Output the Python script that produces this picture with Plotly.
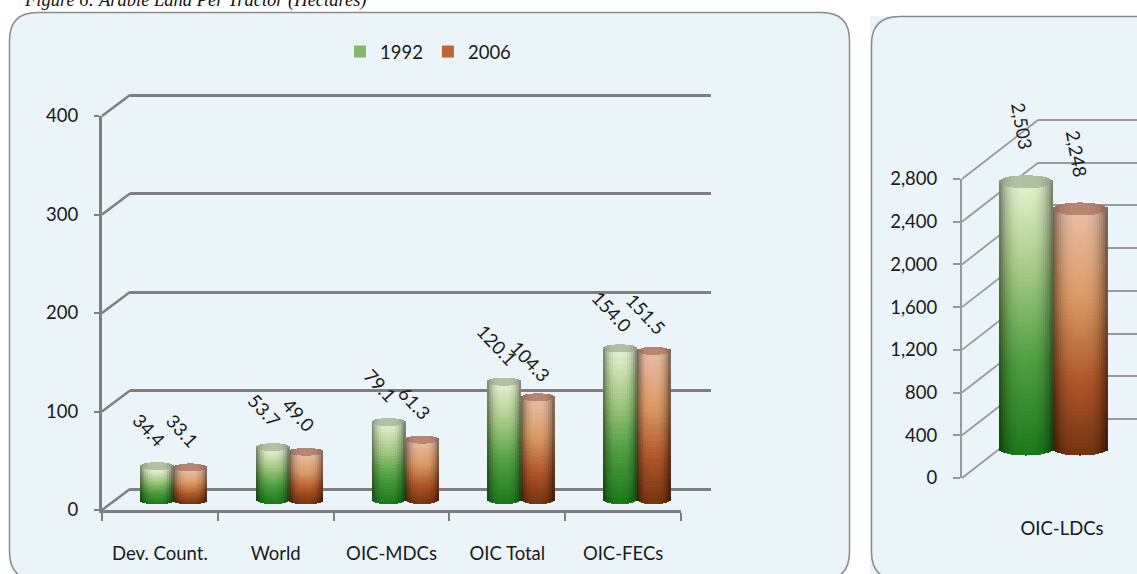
import math
import plotly.graph_objects as go

# ---------- data ----------
CATEGORIES = ["Dev. Count.", "World", "OIC-MDCs", "OIC Total", "OIC-FECs"]
VALUES_1992 = [34.4, 53.7, 79.1, 120.1, 154.0]
VALUES_2006 = [33.1, 49.0, 61.3, 104.3, 151.5]
LDC_CATEGORY = ["OIC-LDCs"]
LDC_1992 = [2503]
LDC_2006 = [2248]
SERIES_NAMES = ["1992", "2006"]
TITLE = "Figure 6: Arable Land Per Tractor (Hectares)"

# ---------- style ----------
W, H = 1137, 574
FONT = "Lato"
TXT = "#1a1a1a"
GRAY = "#7f7f7f"
PANEL = "#EBF4F8"
GREEN = [(0, "#1C7A1C"), (.35, "#4F9F40"), (.7, "#A8CC88"), (1, "#E2F0CC")]
ORANGE = [(0, "#753412"), (.3, "#AE5628"), (.65, "#DC9A64"), (1, "#E8BCA4")]
CAPS = ["#B4C2A4", "#B98672"]
FLAT = ["#86B86C", "#B9663A"]
FS = 18.5


def fx(p):
    return p / W


def fy(p):
    return 1 - p / H


def rgb(h):
    return [int(h[i:i + 2], 16) for i in (1, 3, 5)]


def ramp(stops, t):
    for (a, ca), (b, cb) in zip(stops, stops[1:]):
        if t <= b:
            f = (t - a) / (b - a)
            return [x + (y - x) * f for x, y in zip(rgb(ca), rgb(cb))]
    return rgb(stops[-1][1])


def shade(c, u):
    k = 0.5 + 0.5 * (1 - abs(u) ** 3.0)
    return "rgb(%d,%d,%d)" % tuple(int(v * k) for v in c)


def cylinder(cats, values, left, width, ry, stops, cap, xa, ya, cols, segs):
    xs, ys, bases, wid, offs, colors = [], [], [], [], [], []
    for cat, v in zip(cats, values):
        for j in range(cols):
            u = (j + .5) / cols * 2 - 1
            sag = ry * math.sqrt(1 - u * u)
            lo, hi = -sag, v - sag
            for k in range(segs):
                xs.append(cat)
                bases.append(lo + (hi - lo) * k / segs)
                ys.append((hi - lo) / segs)
                wid.append(width / cols)
                offs.append(left + width * j / cols)
                colors.append(shade(ramp(stops, (k + .5) / segs), u))
            xs.append(cat)
            bases.append(hi)
            ys.append(2 * sag)
            wid.append(width / cols)
            offs.append(left + width * j / cols)
            colors.append(shade(rgb(cap), u * .8))
    return go.Bar(x=xs, y=ys, base=bases, width=wid, offset=offs,
                  marker=dict(color=colors, line=dict(width=0)),
                  xaxis=xa, yaxis=ya, showlegend=False, hoverinfo="skip",
                  cliponaxis=False)


fig = go.Figure()
ann = []
shapes = []

# ---------- panels ----------


def rounded(x0, y0, x1, y1, r):
    X0, X1, R = fx(x0), fx(x1), r / W
    Y0, Y1, Ry = fy(y0), fy(y1), r / H
    return (f"M {X0+R} {Y0} L {X1-R} {Y0} Q {X1} {Y0} {X1} {Y0-Ry} L {X1} {Y1+Ry} "
            f"Q {X1} {Y1} {X1-R} {Y1} L {X0+R} {Y1} Q {X0} {Y1} {X0} {Y1+Ry} "
            f"L {X0} {Y0-Ry} Q {X0} {Y0} {X0+R} {Y0} Z")


shapes.append(dict(type="path", path=rounded(9.5, 12.5, 849.5, 580, 28), xref="paper", yref="paper",
                   fillcolor=PANEL, line=dict(color="#8a8a8a", width=1.5), layer="below"))
shapes.append(dict(type="rect", x0=fx(870), x1=1, y0=fy(16), y1=0, xref="paper", yref="paper",
                   fillcolor=PANEL, line=dict(width=0), layer="below"))
shapes.append(dict(type="path", path=rounded(871.5, 16.5, 1180, 580, 28), xref="paper", yref="paper",
                   fillcolor=PANEL, line=dict(color="#8a8a8a", width=1.5), layer="below"))

# ---------- left chart ----------
L_TICKS = [0, 100, 200, 300, 400]
L_MAX = 400
L_PAD = 40
R_TICKS = [0, 400, 800, 1200, 1600, 2000, 2400, 2800]
R_MAX = 2800
R_PAD = 280

lpx = 394 / L_MAX
lw = 33.5 / 115.8
lry = 4 / lpx
# invisible anchors so the back wall and front axes exist
fig.add_trace(go.Scatter(x=CATEGORIES, y=[0] * 5, mode="none", xaxis="x", yaxis="y", showlegend=False, hoverinfo="skip"))
fig.add_trace(go.Scatter(x=CATEGORIES, y=[0] * 5, mode="none", xaxis="x2", yaxis="y2", showlegend=False, hoverinfo="skip"))

for i, (vals, name) in enumerate(zip([VALUES_1992, VALUES_2006], SERIES_NAMES)):
    fig.add_trace(go.Bar(x=CATEGORIES, y=vals, name=name, width=lw, offset=-lw + i * lw,
                         marker=dict(color=FLAT[i], line=dict(width=0)), xaxis="x3", yaxis="y3", cliponaxis=False))
    fig.add_trace(cylinder(CATEGORIES, vals, -lw + i * lw, lw, lry, [GREEN, ORANGE][i], CAPS[i], "x3", "y3", 17, 26))
    for c, v in zip(CATEGORIES, vals):
        ann.append(dict(x=c, y=v, xref="x3", yref="y3", text=f"{v:.1f}", textangle=47, showarrow=False,
                        xshift=(-lw + i * lw + lw / 2) * 115.8 - 8, yshift=36,
                        font=dict(family=FONT, size=FS, color=TXT)))

for t in L_TICKS:
    y = 510 - t * lpx
    shapes.append(dict(type="line", x0=fx(102), x1=fx(130), y0=fy(y), y1=fy(y - 21), xref="paper", yref="paper",
                       line=dict(color=GRAY, width=2.5), layer="below"))

# ---------- right chart ----------
rpx = 299 / R_MAX
rw = 54.5 / 200
rry = 6.5 / rpx
fig.add_trace(go.Scatter(x=LDC_CATEGORY, y=[0], mode="none", xaxis="x4", yaxis="y4", showlegend=False, hoverinfo="skip"))
fig.add_trace(go.Scatter(x=LDC_CATEGORY, y=[0], mode="none", xaxis="x5", yaxis="y5", showlegend=False, hoverinfo="skip"))
for i, vals in enumerate([LDC_1992, LDC_2006]):
    fig.add_trace(go.Bar(x=LDC_CATEGORY, y=vals, name=SERIES_NAMES[i], width=rw, offset=-rw + i * rw,
                         marker=dict(color=FLAT[i], line=dict(width=0)), xaxis="x6", yaxis="y6",
                         showlegend=False, cliponaxis=False))
    fig.add_trace(cylinder(LDC_CATEGORY, vals, -rw + i * rw, rw, rry, [GREEN, ORANGE][i], CAPS[i], "x6", "y6", 27, 60))
    for c, v in zip(LDC_CATEGORY, vals):
        ann.append(dict(x=c, y=v, xref="x6", yref="y6", text=f"{v:,}", textangle=80, showarrow=False,
                        xshift=(-rw + i * rw + rw / 2) * 200 - 4, yshift=55,
                        font=dict(family=FONT, size=FS, color=TXT)))
for t in R_TICKS:
    y = 478 - t * rpx
    shapes.append(dict(type="line", x0=fx(962), x1=fx(1038), y0=fy(y), y1=fy(y - 59), xref="paper", yref="paper",
                       line=dict(color="#999999", width=1.8), layer="below"))

# ---------- title ----------
ann.append(dict(x=fx(22), y=fy(0.5), xref="paper", yref="paper", xanchor="left", yanchor="middle",
                text=f"<i>{TITLE}</i>", showarrow=False,
                font=dict(family="Liberation Serif", size=18.5, color="#111111")))

hidden = dict(showgrid=False, zeroline=False, showline=False, showticklabels=False, ticks="")
tick_font = dict(family=FONT, size=FS, color=TXT)

fig.update_layout(
    template="none",
    width=W, height=H, margin=dict(l=0, r=0, t=0, b=0), autosize=False,
    paper_bgcolor="white", plot_bgcolor="rgba(0,0,0,0)", barmode="overlay", bargap=0, bargroupgap=0,
    shapes=shapes, annotations=ann,
    legend=dict(orientation="h", x=fx(340), y=fy(52), xanchor="left", yanchor="middle",
                bgcolor="rgba(0,0,0,0)", font=dict(family=FONT, size=FS, color=TXT),
                itemwidth=30, traceorder="normal"),
    # left back wall
    xaxis=dict(domain=[fx(130), fx(711)], type="category", categoryorder="array", categoryarray=CATEGORIES,
               range=[-.5, 4.5], anchor="y", **hidden),
    yaxis=dict(domain=[fy(489 + L_PAD * lpx), fy(95 - L_PAD * lpx)], range=[-L_PAD, L_MAX + L_PAD], anchor="x", tickvals=L_TICKS, showgrid=True,
               gridcolor=GRAY, gridwidth=3, zeroline=False, showline=False, showticklabels=False, ticks=""),
    # left front axes
    xaxis2=dict(domain=[fx(102), fx(681)], type="category", categoryorder="array", categoryarray=CATEGORIES,
                range=[-.5, 4.5], anchor="y2",
                showline=True, linecolor=GRAY, linewidth=3, ticks="outside", ticklen=8, tickwidth=1.5, tickcolor=GRAY,
                tickson="boundaries", tickfont=tick_font, ticklabelstandoff=25, showgrid=False, zeroline=False),
    yaxis2=dict(domain=[fy(510), fy(116)], range=[0, L_MAX], anchor="x2", tickvals=L_TICKS, showline=True,
                linecolor=GRAY, linewidth=3, ticks="outside", ticklen=5, tickwidth=1.5, tickcolor=GRAY,
                tickfont=tick_font, ticklabelstandoff=12, showgrid=False, zeroline=False),
    # left bars
    xaxis3=dict(domain=[fx(116), fx(695)], type="category", categoryorder="array", categoryarray=CATEGORIES,
                range=[-.5, 4.5], anchor="y3", **hidden),
    yaxis3=dict(domain=[fy(499.5 + L_PAD * lpx), fy(105.5)], range=[-L_PAD, L_MAX], anchor="x3", **hidden),
    # right back wall
    xaxis4=dict(domain=[fx(1038), 1], type="category", anchor="y4", **hidden),
    yaxis4=dict(domain=[fy(419 + R_PAD * rpx), fy(120 - R_PAD * rpx)], range=[-R_PAD, R_MAX + R_PAD], anchor="x4", tickvals=R_TICKS, showgrid=True,
                gridcolor="#999999", gridwidth=2, zeroline=False, showline=False, showticklabels=False, ticks=""),
    # right front axes
    xaxis5=dict(domain=[fx(962), 1], type="category", range=[-0.5, 0.375], anchor="y5", showline=False, ticks="",
                tickfont=tick_font, ticklabelstandoff=37, showgrid=False, zeroline=False),
    yaxis5=dict(domain=[fy(478), fy(179)], range=[0, R_MAX], anchor="x5", tickvals=R_TICKS, tickformat=",",
                showline=True, linecolor="#999999", linewidth=2, ticks="outside", ticklen=7, tickwidth=1.5,
                tickcolor="#999999", tickfont=tick_font, ticklabelstandoff=12, showgrid=False, zeroline=False),
    # right bars
    xaxis6=dict(domain=[fx(962), 1], type="category", range=[-91 / 200, 84 / 200], anchor="y6", **hidden),
    yaxis6=dict(domain=[fy(448.5 + R_PAD * rpx), fy(149.5)], range=[-R_PAD, R_MAX], anchor="x6", **hidden),
)

fig.write_html("out.html", config=dict(displayModeBar=False),
               post_script="document.body.style.margin='0';document.body.style.overflow='hidden';")
